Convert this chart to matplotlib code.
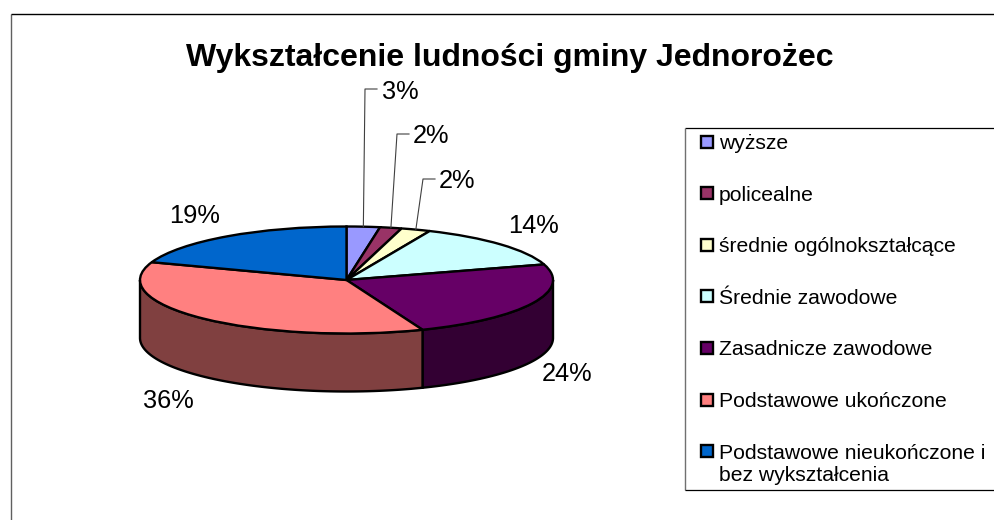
#!/usr/bin/env python3
# -*- coding: utf-8 -*-

"""Wykształcenie ludności gminy Jednorożec - Excel style 3D pie"""

import numpy as np
import matplotlib
matplotlib.use("Agg")
import matplotlib.pyplot as plt
from matplotlib.patches import Rectangle

plt.rcParams["font.family"] = ["Liberation Sans", "DejaVu Sans"]

TITLE = "Wykształcenie ludności gminy Jednorożec"
categories = [
    "wyższe",
    "policealne",
    "średnie ogólnokształcące",
    "Średnie zawodowe",
    "Zasadnicze zawodowe",
    "Podstawowe ukończone",
    "Podstawowe nieukończone i\nbez wykształcenia",
]
values = [2.6, 1.7, 2.3, 13.7, 23.7, 36.4, 19.6]
value_labels = ["3%", "2%", "2%", "14%", "24%", "36%", "19%"]
colors = ["#9999FF", "#993366", "#FFFFCC", "#CCFFFF", "#660066", "#FF8080", "#0066CC"]
side_colors = ["#4D4D80", "#4D1A33", "#808066", "#668080", "#330033", "#804040", "#003366"]

W, H = 995, 520
CX, CY, RX, RY, DEPTH = 346.5, 280.0, 206.5, 53.5, 58.0
EDGE = 1.7

# label centres in pixels, and where the leader elbow sits (first three only)
label_pos = [(400, 92), (431, 136), (457, 181), (533, 226), (567, 374), (168, 401), (195, 216)]
elbow_pos = [(365, 89), (397, 134), (423, 179)]

fig = plt.figure(figsize=(W / 100, H / 100), dpi=100)

# pie axes: one data unit is one radius of the ellipse
ax = fig.add_axes([0, 0, 1, 1])
wedges, _ = ax.pie(
    values, colors=colors, startangle=90, counterclock=False,
    wedgeprops={"edgecolor": "black", "linewidth": EDGE}, normalize=True,
)
ax.set_aspect("auto")
ax.set_xlim(-CX / RX, (W - CX) / RX)
ax.set_ylim((CY - H) / RY, CY / RY)
ax.set_zorder(2)

# side wall of the cake, only the front half (90 to 270 deg clockwise from top)
edges = np.cumsum([0] + values) / sum(values) * 360.0
depth = DEPTH / RY
for i in range(len(values)):
    t0, t1 = max(edges[i], 90.0), min(edges[i + 1], 270.0)
    if t1 <= t0:
        continue
    t = np.radians(np.linspace(t0, t1, 120))
    xs = np.r_[np.sin(t), np.sin(t[::-1])]
    ys = np.r_[np.cos(t), np.cos(t[::-1]) - depth]
    ax.fill(xs, ys, facecolor=side_colors[i], edgecolor="black", linewidth=EDGE, zorder=0.5)

# overlay in pixel coordinates for title, labels, legend and frames
ov = fig.add_axes([0, 0, 1, 1], zorder=3)
ov.set_xlim(0, W)
ov.set_ylim(H, 0)
ov.axis("off")

# chart frame, runs off the picture on the right and at the bottom
ov.plot([10.5, 10.5], [13.5, H], color="#606060", lw=1.0, solid_capstyle="butt")
ov.plot([10.5, W], [13.5, 13.5], color="black", lw=1.0, solid_capstyle="butt")

ov.text(509.5, 58, TITLE, ha="center", va="center", fontsize=23, fontweight="bold")

mids = (edges[:-1] + edges[1:]) / 2.0
for i, lab in enumerate(value_labels):
    ov.text(label_pos[i][0], label_pos[i][1], lab, ha="center", va="center", fontsize=18.3)
    if i < len(elbow_pos):
        ax_x = CX + RX * np.sin(np.radians(mids[i]))
        ax_y = CY - RY * np.cos(np.radians(mids[i]))
        ex, ey = elbow_pos[i]
        ov.plot([ax_x, ex, ex + 12], [ax_y, ey, ey], color="#404040", lw=0.8)

# legend box, open to the right edge of the picture
ov.plot([684.5, W], [127.5, 127.5], color="black", lw=0.9, solid_capstyle="butt")
ov.plot([684.5, 684.5], [127.5, 490], color="#707070", lw=1.0, solid_capstyle="butt")
ov.plot([684.5, W], [490, 490], color="black", lw=0.9, solid_capstyle="butt")

for i, name in enumerate(categories):
    yc = 142 + i * 51.6
    ov.add_patch(Rectangle((700.5, yc - 6.5), 12, 12, facecolor=colors[i],
                           edgecolor="black", linewidth=1.7))
    ov.text(719, yc - 8, name, ha="left", va="top", fontsize=15.2, linespacing=1.2)

fig.savefig("out.png", dpi=100)
plt.close(fig)
